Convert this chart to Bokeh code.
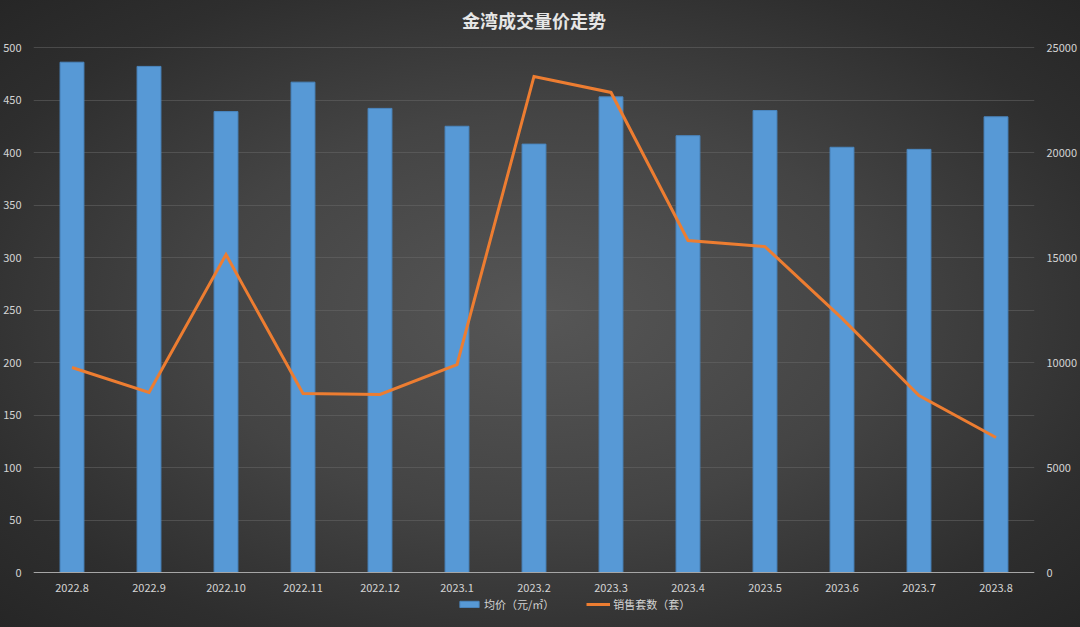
from bokeh.plotting import figure
from bokeh.models import (LinearAxis, Range1d, FactorRange, Legend, LegendItem, FixedTicker,
                          ColumnDataSource, Label)
from bokeh.embed import file_html
from bokeh.resources import INLINE

months = ["2022.8", "2022.9", "2022.10", "2022.11", "2022.12", "2023.1", "2023.2",
          "2023.3", "2023.4", "2023.5", "2023.6", "2023.7", "2023.8"]
avg_price = [486, 482, 439, 467, 442, 425, 408, 453, 416, 440, 405, 403, 434]
units_sold = [9760, 8570, 15140, 8520, 8480, 9900, 23620, 22860, 15810, 15520, 12100, 8430, 6430]
price_ticks = list(range(0, 501, 50))
units_ticks = list(range(0, 25001, 5000))

price_label = "均价（元/㎡）"
units_label = "销售套数（套）"
title_text = "金湾成交量价走势"

src = ColumnDataSource(dict(m=months, price=avg_price, units=units_sold))

FONT = "Noto Sans CJK SC"
TXT = "#d4d4d4"

W, H = 1080, 627
top_px, bottom_px = 47, 572          # pixel rows of the 500 and 0 gridlines
ppu = (bottom_px - top_px) / 500.0   # pixels per price unit
y_lo = -(H - bottom_px) / ppu
y_hi = 500 + top_px / ppu
r = 25000 / 500.0

p = figure(width=W, height=H, x_range=FactorRange(*months), y_range=Range1d(y_lo, y_hi),
           output_backend="svg", toolbar_location=None,
           min_border_left=32, min_border_right=43, min_border_top=0, min_border_bottom=0)
p.extra_y_ranges = {"right": Range1d(y_lo * r, y_hi * r)}
p.x_range.range_padding = 0

p.styles = {"background": "radial-gradient(ellipse at 50% 50%, #565656 0%, #444444 45%, #2e2e2e 80%, #262626 100%)"}
p.border_fill_color = None
p.background_fill_color = None
p.outline_line_color = None

bars = p.vbar(x="m", top="price", bottom=0, width=0.31, source=src, fill_color="#5799d6",
              line_color="#4a86bf", line_width=1)
line = p.line(x="m", y="units", source=src, y_range_name="right", line_color="#ed7d31",
              line_width=3, line_join="miter")

right = LinearAxis(y_range_name="right", ticker=FixedTicker(ticks=units_ticks))
p.add_layout(right, "right")

p.yaxis[0].ticker = FixedTicker(ticks=price_ticks)
for ax in p.yaxis:
    ax.axis_line_color = None
    ax.major_tick_line_color = None
    ax.minor_tick_line_color = None
    ax.major_label_text_font = FONT
    ax.major_label_text_font_size = "11px"
    ax.major_label_text_color = TXT
    ax.major_label_standoff = 6

xa = p.xaxis[0]
xa.fixed_location = 0
xa.axis_line_color = "#a6a6a6"
xa.axis_line_width = 1
xa.major_tick_line_color = None
xa.minor_tick_line_color = None
xa.major_label_text_font = FONT
xa.major_label_text_font_size = "11px"
xa.major_label_text_color = TXT
xa.major_label_standoff = 5

p.xgrid.grid_line_color = None
p.ygrid.grid_line_color = "#6a6a6a"
p.ygrid.grid_line_alpha = 0.5
p.ygrid.grid_line_width = 1

title = Label(x=len(months) / 2.0, y=500 + (top_px - 19) / ppu, text=title_text,
              text_align="center", text_baseline="middle", text_font=FONT,
              text_font_size="18px", text_font_style="bold", text_color="#e6e6e6")
p.add_layout(title)

legend = Legend(items=[LegendItem(label=price_label, renderers=[bars]),
                       LegendItem(label=units_label, renderers=[line])],
                orientation="horizontal", location=(424, 15),
                background_fill_alpha=0, border_line_color=None,
                label_text_font=FONT, label_text_font_size="11px", label_text_color=TXT,
                glyph_width=24, glyph_height=8, spacing=32, padding=0, margin=0,
                label_standoff=3)
p.add_layout(legend, "center")

open("out.html", "w").write(file_html(p, INLINE))
